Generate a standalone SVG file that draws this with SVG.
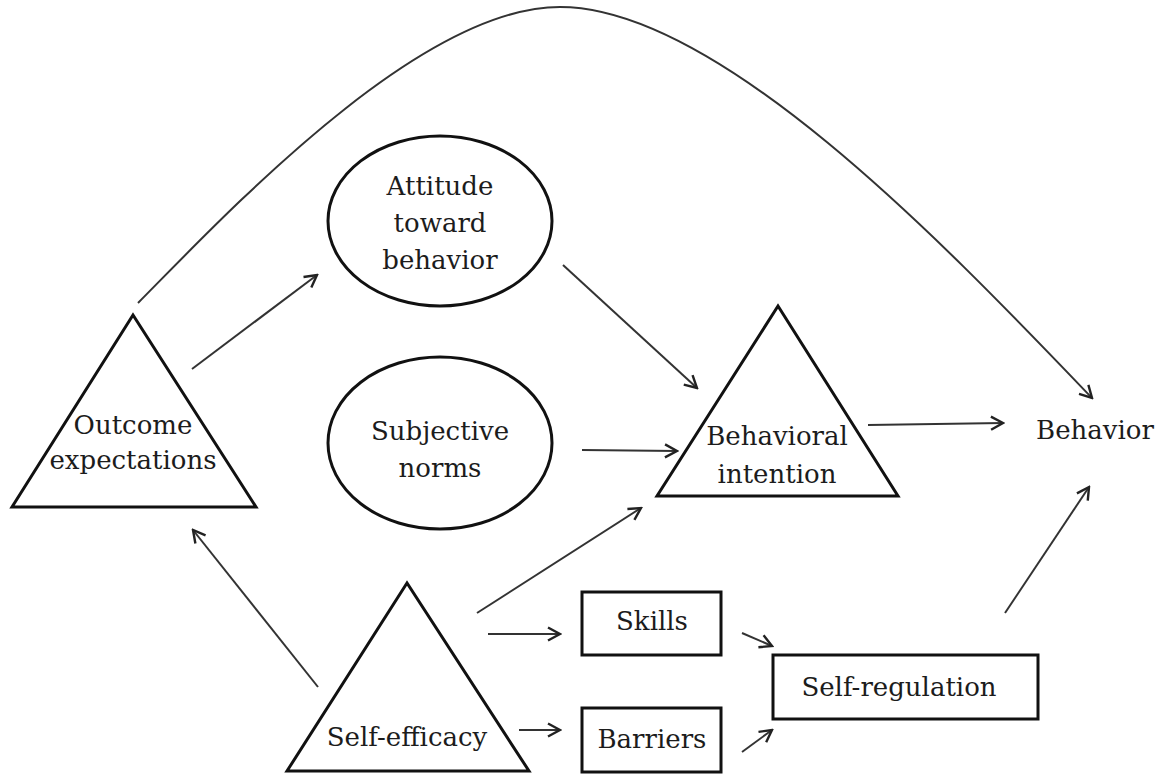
<svg xmlns="http://www.w3.org/2000/svg" width="1161" height="777" viewBox="0 0 1161 777">
<style>
.shape{fill:#fff;stroke:#111;stroke-width:3;stroke-linejoin:miter}
.lbl{font-family:"DejaVu Serif","Liberation Serif",serif;font-size:26px;fill:#1c1c1c;text-anchor:middle}
.con{fill:none;stroke:#333;stroke-width:2}
</style>
<defs>
<marker id="arr" markerUnits="userSpaceOnUse" markerWidth="16" markerHeight="16" viewBox="0 0 16 16" refX="14" refY="8" orient="auto">
<path d="M2,1.5 L14,8 L2,14.5" fill="none" stroke="#222" stroke-width="2.4" stroke-linejoin="miter"/>
</marker>
</defs>
<rect width="1161" height="777" fill="#fff"/>
<g id="outcome">
<polygon class="shape" points="133,315 12,507 256,507"/>
<text class="lbl" x="133" y="434">Outcome</text>
<text class="lbl" x="133" y="469">expectations</text>
</g>
<g id="attitude">
<ellipse class="shape" cx="440" cy="221" rx="112" ry="85"/>
<text class="lbl" x="440" y="195">Attitude</text>
<text class="lbl" x="440" y="232">toward</text>
<text class="lbl" x="440" y="269">behavior</text>
</g>
<g id="norms">
<ellipse class="shape" cx="440" cy="443" rx="112" ry="86"/>
<text class="lbl" x="440" y="440">Subjective</text>
<text class="lbl" x="440" y="477">norms</text>
</g>
<g id="intention">
<polygon class="shape" points="778,306 657,496 898,496"/>
<text class="lbl" x="777" y="445">Behavioral</text>
<text class="lbl" x="777" y="483">intention</text>
</g>
<g id="behavior">
<text class="lbl" x="1095" y="439">Behavior</text>
</g>
<g id="efficacy">
<polygon class="shape" points="407,583 287,771 529,771"/>
<text class="lbl" x="407" y="746">Self-efficacy</text>
</g>
<g id="skills">
<rect class="shape" x="582" y="592" width="139" height="63"/>
<text class="lbl" x="652" y="630">Skills</text>
</g>
<g id="barriers">
<rect class="shape" x="582" y="708" width="139" height="64"/>
<text class="lbl" x="652" y="748">Barriers</text>
</g>
<g id="selfreg">
<rect class="shape" x="773" y="655" width="265" height="64"/>
<text class="lbl" x="899" y="696">Self-regulation</text>
</g>
<g id="connectors">
<path class="con" marker-end="url(#arr)" d="M138,303 C230,210 420,7 560,7 C720,7 950,250 1092,398"/>
<line class="con" marker-end="url(#arr)" x1="192" y1="369" x2="317" y2="275"/>
<line class="con" marker-end="url(#arr)" x1="563" y1="265" x2="697" y2="388"/>
<line class="con" marker-end="url(#arr)" x1="582" y1="450" x2="677" y2="451"/>
<line class="con" marker-end="url(#arr)" x1="868" y1="425" x2="1003" y2="423"/>
<line class="con" marker-end="url(#arr)" x1="318" y1="687" x2="193" y2="530"/>
<line class="con" marker-end="url(#arr)" x1="477" y1="613" x2="641" y2="508"/>
<line class="con" marker-end="url(#arr)" x1="488" y1="634" x2="560" y2="634"/>
<line class="con" marker-end="url(#arr)" x1="519" y1="730" x2="560" y2="730"/>
<line class="con" marker-end="url(#arr)" x1="742" y1="633" x2="772" y2="646"/>
<line class="con" marker-end="url(#arr)" x1="742" y1="752" x2="772" y2="730"/>
<line class="con" marker-end="url(#arr)" x1="1005" y1="613" x2="1089" y2="487"/>
</g>
</svg>
